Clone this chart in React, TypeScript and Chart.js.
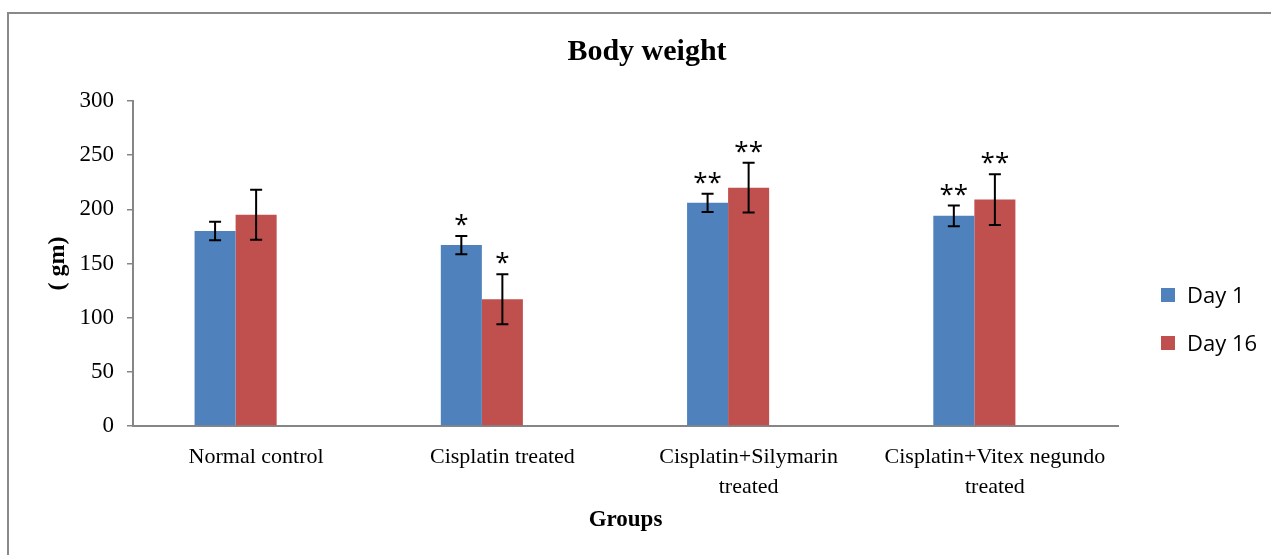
import React, { useEffect, useRef } from "react";
import { Chart, registerables } from "chart.js";

Chart.register(...registerables);

const chartTitle = "Body weight";
const yTitle = "( gm)";
const xTitle = "Groups";
const categories: string[][] = [
  ["Normal control"],
  ["Cisplatin treated"],
  ["Cisplatin+Silymarin", "treated"],
  ["Cisplatin+Vitex negundo", "treated"],
];
const seriesNames = ["Day 1", "Day 16"];
const seriesColors = ["#4F81BD", "#C0504D"];
const day1 = [180, 167, 206, 194];
const day1Err = [8.5, 8.5, 8.5, 9.5];
const day16 = [195, 117, 220, 209];
const day16Err = [23, 23, 23, 23.5];
const day1Marks = ["", "*", "**", "**"];
const day16Marks = ["", "*", "**", "**"];
const yMin = 0;
const yMax = 300;
const yStep = 50;

const SERIF = '"Liberation Serif", "Times New Roman", serif';
const SANS = '"Open Sans", "Liberation Sans", sans-serif';

const seriesVals = [day1, day16];
const seriesErrs = [day1Err, day16Err];
const seriesMarks = [day1Marks, day16Marks];

const framePlugin = {
  id: "frame",
  beforeDraw(chart: any) {
    const ctx = chart.ctx;
    ctx.save();
    ctx.fillStyle = "#ffffff";
    ctx.fillRect(0, 0, chart.width, chart.height);
    ctx.strokeStyle = "#898989";
    ctx.lineWidth = 2;
    ctx.strokeRect(8, 13, chart.width + 50, chart.height + 50);
    ctx.restore();
  },
};

const errorPlugin = {
  id: "errorBars",
  afterDatasetsDraw(chart: any) {
    const ctx = chart.ctx;
    const yScale = chart.scales.y;
    for (let d = 0; d < 2; d++) {
      const meta = chart.getDatasetMeta(d);
      meta.data.forEach((bar: any, i: number) => {
        const v = seriesVals[d][i];
        const e = seriesErrs[d][i];
        const x = bar.x;
        const top = yScale.getPixelForValue(v + e);
        const bot = yScale.getPixelForValue(v - e);
        ctx.save();
        ctx.strokeStyle = "#000000";
        ctx.lineWidth = 2;
        ctx.beginPath();
        ctx.moveTo(x, top);
        ctx.lineTo(x, bot);
        ctx.moveTo(x - 6, top);
        ctx.lineTo(x + 6, top);
        ctx.moveTo(x - 6, bot);
        ctx.lineTo(x + 6, bot);
        ctx.stroke();
        const mark = seriesMarks[d][i];
        if (mark) {
          ctx.font = `26px ${SANS}`;
          ctx.fillStyle = "#000000";
          ctx.textAlign = "center";
          ctx.textBaseline = "alphabetic";
          const m = ctx.measureText(mark);
          const center = top - 16;
          const baseY = center - (m.actualBoundingBoxDescent - m.actualBoundingBoxAscent) / 2;
          ctx.fillText(mark, x, baseY);
        }
        ctx.restore();
      });
    }
  },
};

const legendPlugin = {
  id: "sideLegend",
  afterDraw(chart: any) {
    const ctx = chart.ctx;
    const area = chart.chartArea;
    const x0 = area.right + 43;
    const y0 = area.top + 194;
    ctx.save();
    seriesNames.forEach((name, i) => {
      const cy = y0 + i * 48;
      ctx.fillStyle = seriesColors[i];
      ctx.fillRect(x0, cy - 7, 14, 14);
      ctx.fillStyle = "#000000";
      ctx.font = `22px ${SANS}`;
      ctx.textAlign = "left";
      ctx.textBaseline = "middle";
      ctx.fillText(name, x0 + 26, cy + 2);
    });
    ctx.restore();
  },
};

export default function App() {
  const canvasRef = useRef<HTMLCanvasElement | null>(null);

  useEffect(() => {
    document.body.style.margin = "0";
    document.body.style.overflow = "hidden";
    const canvas = canvasRef.current;
    if (!canvas) return;
    const chart = new Chart(canvas, {
      type: "bar",
      data: {
        labels: categories,
        datasets: [
          {
            label: seriesNames[0],
            data: day1,
            backgroundColor: seriesColors[0],
            categoryPercentage: 0.5,
            barPercentage: 1,
          },
          {
            label: seriesNames[1],
            data: day16,
            backgroundColor: seriesColors[1],
            categoryPercentage: 0.5,
            barPercentage: 1,
          },
          {
            label: "",
            data: [null, null, null, null],
            backgroundColor: "rgba(0,0,0,0)",
            categoryPercentage: 0.5,
            barPercentage: 1,
          },
        ],
      },
      options: {
        responsive: false,
        animation: false,
        layout: { padding: { left: 0, right: -23, top: 0, bottom: 0 } },
        plugins: {
          legend: { display: false },
          tooltip: { enabled: false },
          title: {
            display: true,
            text: chartTitle,
            color: "#000000",
            font: { family: SERIF, size: 30, weight: "bold", lineHeight: 1.2 },
            padding: { top: 34, bottom: 31 },
          },
        },
        scales: {
          x: {
            grid: { display: false, drawTicks: false },
            border: { display: true, color: "#868686", width: 2 },
            ticks: {
              color: "#000000",
              font: { family: SERIF, size: 22, lineHeight: 1.36 },
              padding: 16,
              maxRotation: 0,
              autoSkip: false,
            },
            title: {
              display: true,
              text: xTitle,
              color: "#000000",
              font: { family: SERIF, size: 23, weight: "bold", lineHeight: 1.2 },
              padding: { top: 0, bottom: 21 },
            },
            afterFit(scale: any) {
              scale.height = 129;
            },
          },
          y: {
            min: yMin,
            max: yMax,
            ticks: {
              stepSize: yStep,
              color: "#000000",
              font: { family: SERIF, size: 23 },
              padding: 13,
            },
            grid: {
              display: true,
              drawOnChartArea: false,
              drawTicks: true,
              tickLength: 6,
              color: "#868686",
              lineWidth: 1.5,
            },
            border: { display: true, color: "#868686", width: 2 },
            title: {
              display: true,
              text: yTitle,
              color: "#000000",
              font: { family: SERIF, size: 24, weight: "bold", lineHeight: 1.2 },
              padding: { top: 43, bottom: 0 },
            },
            afterFit(scale: any) {
              scale.width = 133;
            },
          },
          legendSpace: {
            type: "linear",
            position: "right",
            display: true,
            min: yMin,
            max: yMax,
            ticks: { display: false },
            grid: { display: false, drawTicks: false },
            border: { display: false },
            afterFit(scale: any) {
              scale.width = 176;
            },
          },
        },
      },
      plugins: [framePlugin, errorPlugin, legendPlugin],
    });
    return () => chart.destroy();
  }, []);

  return (
    <canvas
      ref={canvasRef}
      width={1271}
      height={555}
      style={{ display: "block", width: "1271px", height: "555px" }}
    />
  );
}
